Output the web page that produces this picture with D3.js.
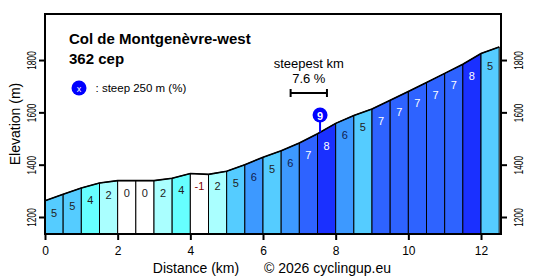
<!DOCTYPE html>
<html>
<head>
<meta charset="utf-8">
<script src="https://cdn.jsdelivr.net/npm/d3@7"></script>
<style>
  body { margin: 0; background: #fff; }
  svg text { font-family: "Liberation Sans", Arial, sans-serif; }
</style>
</head>
<body>
<div class="profile"></div>
<script>
// profile points every 0.5 km
var distances = [0, 0.5, 1, 1.5, 2, 2.5, 3, 3.5, 4, 4.5, 5, 5.5, 6, 6.5, 7, 7.5, 8, 8.5, 9, 9.5, 10, 10.5, 11, 11.5, 12, 12.5];
var elevations = [1262, 1287, 1311, 1330, 1339, 1339, 1339, 1348, 1366, 1363, 1375, 1400, 1428, 1453, 1483, 1518, 1558, 1588, 1613, 1646, 1680, 1714, 1749, 1784, 1825, 1850];
// gradient label of each 0.5 km segment
var grades = [5, 5, 4, 2, 0, 0, 2, 4, -1, 2, 5, 6, 5, 6, 7, 8, 6, 5, 7, 7, 7, 7, 7, 8, 5];
var xTicks = [0, 2, 4, 6, 8, 10, 12];
var yTicks = [1200, 1400, 1600, 1800];
var steepKm = { from: 6.76, to: 7.76, text: "7.6 %" };
var steep250 = { dist: 7.57, label: 9 };

var margin = { top: 14, right: 40, bottom: 46, left: 45 };
var svgWidth = 541, svgHeight = 280;
var width = svgWidth - margin.left - margin.right;
var height = svgHeight - margin.top - margin.bottom;

var gradeColor = function (g) {
  if (g <= 0) return "#ffffff";
  if (g <= 2) return "#aaffff";
  if (g <= 4) return "#66ffff";
  if (g <= 5) return "#55ccff";
  if (g <= 6) return "#3d99ff";
  if (g <= 7) return "#2e63ff";
  if (g <= 8) return "#1a30ff";
  return "#0000ff";
};

var svg = d3.select(".profile").append("svg")
  .attr("width", svgWidth)
  .attr("height", svgHeight);

var canvas = svg.append("g")
  .attr("transform", "translate(" + margin.left + "," + margin.top + ")");

var xScale = d3.scaleLinear().domain([0, 12.55]).range([0, width]);
var yScale = d3.scaleLinear().domain([1135, 1976]).range([height, 0]);

var segments = grades.map(function (g, i) {
  return { g: g, d0: distances[i], d1: distances[i + 1], e0: elevations[i], e1: elevations[i + 1] };
});

// bars
canvas.selectAll(".seg")
  .data(segments)
  .enter()
  .append("path")
  .attr("class", "seg")
  .attr("d", function (d) {
    return "M" + xScale(d.d0) + "," + height +
      "L" + xScale(d.d0) + "," + yScale(d.e0) +
      "L" + xScale(d.d1) + "," + yScale(d.e1) +
      "L" + xScale(d.d1) + "," + height + "Z";
  })
  .attr("fill", function (d) { return gradeColor(d.g); })
  .attr("stroke", "#000")
  .attr("stroke-width", 1);

// profile line
var line = d3.line()
  .x(function (d, i) { return xScale(distances[i]); })
  .y(function (d) { return yScale(d); });

canvas.append("path")
  .attr("d", line(elevations))
  .attr("fill", "none")
  .attr("stroke", "#000")
  .attr("stroke-width", 1.6);

// bar labels
canvas.selectAll(".glabel")
  .data(segments)
  .enter()
  .append("text")
  .attr("class", "glabel")
  .attr("x", function (d) { return xScale((d.d0 + d.d1) / 2); })
  .attr("y", function (d) { return yScale(Math.min(d.e0, d.e1)) + 16; })
  .attr("text-anchor", "middle")
  .attr("font-size", 11)
  .attr("fill", function (d) {
    if (d.g < 0) return "#800000";
    if (d.g >= 7) return "#ffffff";
    if (d.g == 6) return "#102050";
    return "#222222";
  })
  .text(function (d) { return d.g; });

// steepest km
var skY = 79;
var skX0 = xScale(steepKm.from), skX1 = xScale(steepKm.to);
canvas.append("line").attr("x1", skX0).attr("x2", skX1).attr("y1", skY).attr("y2", skY)
  .attr("stroke", "#000").attr("stroke-width", 2);
[skX0, skX1].forEach(function (x) {
  canvas.append("line").attr("x1", x).attr("x2", x).attr("y1", skY - 4).attr("y2", skY + 4)
    .attr("stroke", "#000").attr("stroke-width", 2);
});
canvas.append("text").attr("x", (skX0 + skX1) / 2).attr("y", 54)
  .attr("text-anchor", "middle").attr("font-size", 13).text("steepest km");
canvas.append("text").attr("x", (skX0 + skX1) / 2).attr("y", 69)
  .attr("text-anchor", "middle").attr("font-size", 13).text(steepKm.text);

// steep 250 m marker
var mX = xScale(steep250.dist);
var mE = d3.scaleLinear().domain([7.5, 8]).range([1518, 1558])(steep250.dist);
canvas.append("line").attr("x1", mX).attr("x2", mX).attr("y1", 101).attr("y2", yScale(mE))
  .attr("stroke", "#0000ff").attr("stroke-width", 2);
canvas.append("circle").attr("cx", mX).attr("cy", 101).attr("r", 7.5).attr("fill", "#0000ff");
canvas.append("text").attr("x", mX).attr("y", 105.5).attr("text-anchor", "middle")
  .attr("font-size", 11).attr("font-weight", "bold").attr("fill", "#fff").text(steep250.label);

// frame
canvas.append("rect").attr("width", width).attr("height", height)
  .attr("fill", "none").attr("stroke", "#000").attr("stroke-width", 2);

// axes
var xAxis = d3.axisBottom(xScale).tickValues(xTicks).tickSize(6).tickSizeOuter(0);
var gx = canvas.append("g").attr("class", "x axis")
  .attr("transform", "translate(0," + height + ")")
  .call(xAxis);
gx.select(".domain").remove();
gx.selectAll("line").attr("stroke-width", 2);
gx.selectAll("text").attr("font-size", 12).attr("fill", "#000").attr("dy", "1.0em");

var fmt = d3.format("d");
var gyl = canvas.append("g").attr("class", "y axis")
  .call(d3.axisLeft(yScale).tickValues(yTicks).tickFormat(fmt).tickSize(6).tickSizeOuter(0));
var gyr = canvas.append("g").attr("class", "y axis")
  .attr("transform", "translate(" + width + ",0)")
  .call(d3.axisRight(yScale).tickValues(yTicks).tickFormat(fmt).tickSize(6).tickSizeOuter(0));
[gyl, gyr].forEach(function (g, k) {
  g.select(".domain").remove();
  g.selectAll("line").attr("stroke-width", 2);
  g.selectAll("text")
    .attr("font-size", 12).attr("fill", "#000")
    .attr("x", null).attr("dy", null)
    .attr("text-anchor", "middle")
    .attr("transform", function () { return "translate(" + (k == 0 ? -13 : 18) + ",0) rotate(-90) scale(0.7,1) translate(0,4)"; });
});

// titles
canvas.append("text").attr("x", 24).attr("y", 30).attr("font-size", 15).attr("font-weight", "bold").text("Col de Montgenèvre-west");
canvas.append("text").attr("x", 24).attr("y", 50).attr("font-size", 15).attr("font-weight", "bold").text("362 cep");

// legend
canvas.append("circle").attr("cx", 34).attr("cy", 74).attr("r", 7.5).attr("fill", "#0000ff");
canvas.append("text").attr("x", 34).attr("y", 77.5).attr("text-anchor", "middle")
  .attr("font-size", 9).attr("fill", "#fff").text("x");
canvas.append("text").attr("x", 50.5).attr("y", 78).attr("font-size", 11.5).text(": steep 250 m (%)");

// axis titles
svg.append("text").attr("transform", "translate(20," + (margin.top + height / 2) + ") rotate(-90)")
  .attr("text-anchor", "middle").attr("font-size", 14).text("Elevation (m)");
svg.append("text").attr("x", 196).attr("y", 273).attr("text-anchor", "middle")
  .attr("font-size", 14).text("Distance (km)");
svg.append("text").attr("x", 264).attr("y", 273).attr("font-size", 14).text("© 2026 cyclingup.eu");
</script>
</body>
</html>
